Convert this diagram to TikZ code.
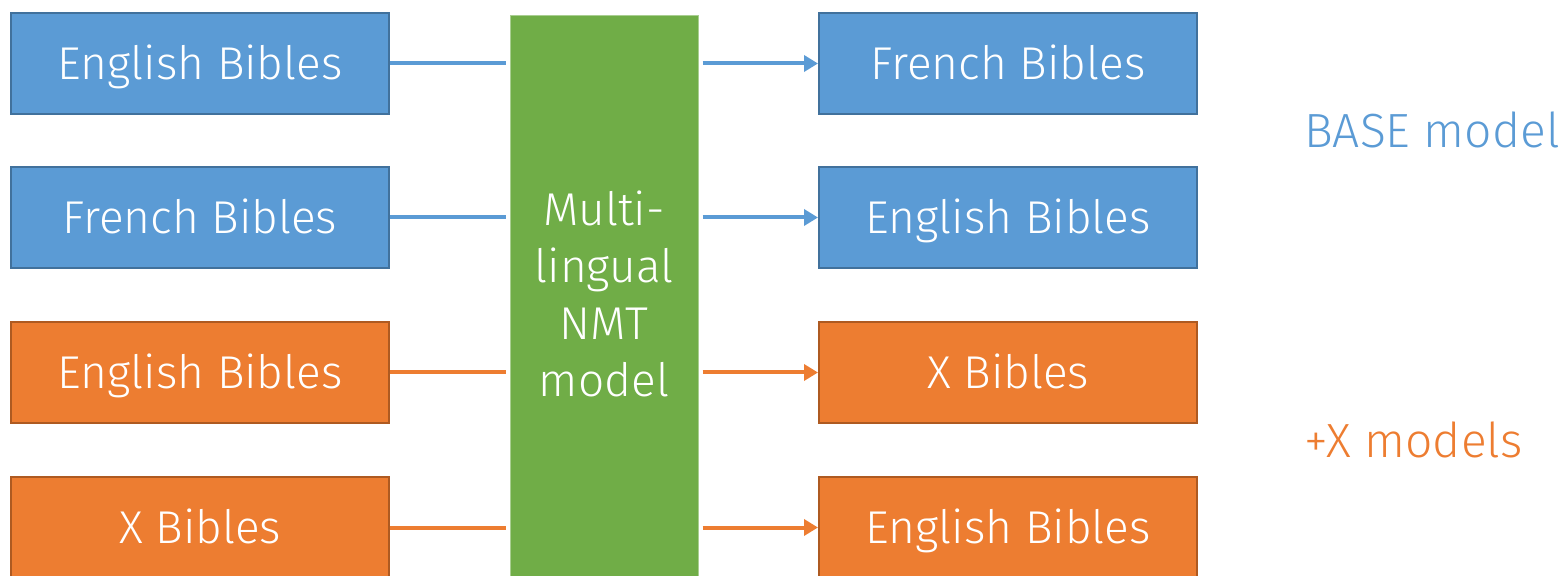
\documentclass[tikz,border=0pt]{standalone}
\usepackage{fontspec}
\setmainfont{Fira Sans Light}
\usetikzlibrary{arrows.meta}
\usetikzlibrary{positioning}
\definecolor{bibleblue}{HTML}{5B9BD5}
\definecolor{bibleblueline}{HTML}{41719C}
\definecolor{bibleorange}{HTML}{ED7D31}
\definecolor{bibleorangeline}{HTML}{AE5A21}
\definecolor{nmtgreen}{HTML}{70AD47}

\begin{document}
\begin{tikzpicture}[x=0.5pt,y=-0.5pt,
	corpus/.style={draw,line width=1pt,minimum width=189pt,minimum height=50.5pt,inner sep=0pt,text height=16pt,text depth=0pt,text=white,font=\fontsize{23}{27}\selectfont},
	base/.style={corpus,fill=bibleblue,draw=bibleblueline},
	plusx/.style={corpus,fill=bibleorange,draw=bibleorangeline},
	legend/.style={anchor=west,inner sep=0pt,font=\fontsize{24}{28}\selectfont},
	link/.style={line width=2pt},
	feed/.style={link,-{Triangle[length=7pt,width=8pt]}}]
	\useasboundingbox (0,0) rectangle (1562,576);
	\clip (0,0) rectangle (1562,576);
	% sources
	\node[base]  (s1) at (200,63.5)  {English Bibles};
	\node[base]  (s2) at (200,217.5) {French Bibles};
	\node[plusx] (s3) at (200,372.5) {English Bibles};
	\node[plusx] (s4) at (200,527.5) {X Bibles};
	% targets
	\node[base]  (t1) at (1008,63.5)  {French Bibles};
	\node[base]  (t2) at (1008,217.5) {English Bibles};
	\node[plusx] (t3) at (1008,372.5) {X Bibles};
	\node[plusx] (t4) at (1008,527.5) {English Bibles};
	% model
	\node[fill=nmtgreen,draw=nmtgreen!60!white,line width=0.5pt,minimum width=94pt,minimum height=296pt,inner sep=0pt,
		anchor=north,text=white,align=center,font=\fontsize{23}{28.5}\selectfont] (nmt) at (604,15)
		{\\[-116pt]Multi-\\lingual\\NMT\\model};
	% legend
	\node[legend,text=bibleblue]   (baselbl) at (1304,130) {BASE model};
	\node[legend,text=bibleorange] (xlbl) at (1304,440) {+X models};
	\draw[link,bibleblue]   (s1.east) -- ([xshift=-2pt]s1 -| nmt.west);
	\draw[link,bibleblue]   (s2.east) -- ([xshift=-2pt]s2 -| nmt.west);
	\draw[link,bibleorange] (s3.east) -- ([xshift=-2pt]s3 -| nmt.west);
	\draw[link,bibleorange] (s4.east) -- ([xshift=-2pt]s4 -| nmt.west);
	\draw[feed,bibleblue]   ([xshift=2pt]t1 -| nmt.east) -- (t1.west);
	\draw[feed,bibleblue]   ([xshift=2pt]t2 -| nmt.east) -- (t2.west);
	\draw[feed,bibleorange] ([xshift=2pt]t3 -| nmt.east) -- (t3.west);
	\draw[feed,bibleorange] ([xshift=2pt]t4 -| nmt.east) -- (t4.west);
\end{tikzpicture}
\end{document}
